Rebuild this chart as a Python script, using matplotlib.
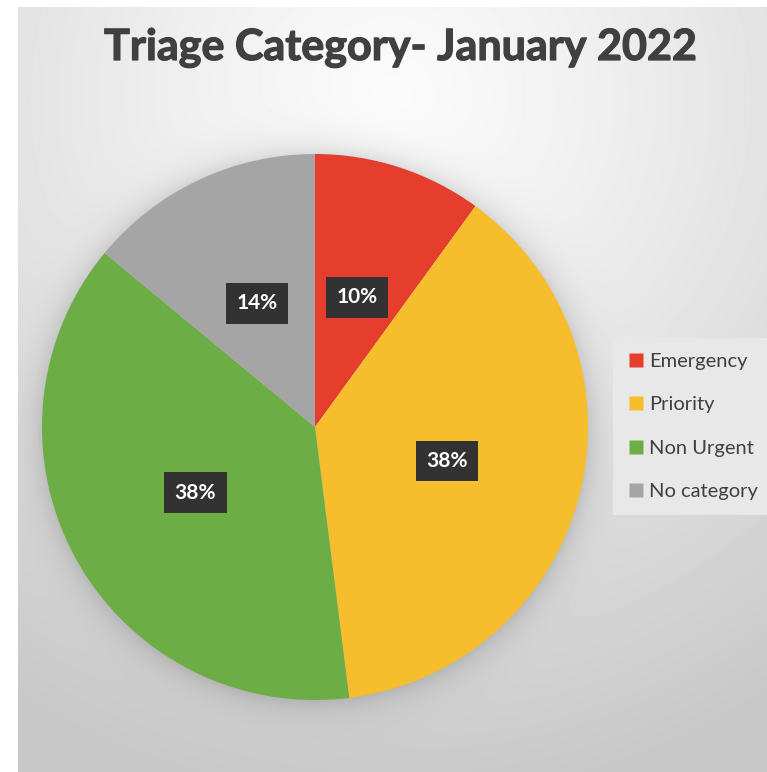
import numpy as np
import matplotlib.pyplot as plt
import matplotlib.patheffects as pe
from matplotlib.lines import Line2D

# Triage categories for January 2022
categories = ["Emergency", "Priority", "Non Urgent", "No category"]
shares = [10, 38, 38, 14]
colors = ["#E53E2D", "#F6BE2D", "#6DAD45", "#A5A5A5"]
title = "Triage Category- January 2022"

W, H, DPI = 767, 772, 100
plt.rcParams["font.family"] = ["Lato", "DejaVu Sans"]

fig = plt.figure(figsize=(W / DPI, H / DPI), dpi=DPI)
fig.patch.set_facecolor("white")

# pie geometry in pixels (from top-left)
cx, cy, R = 315, 427, 273
x0, y0 = 18, 7  # white margin at the left / top

# soft radial backdrop plus a halo under the pie
yy, xx = np.mgrid[0:H, 0:W].astype(float)
d = np.hypot(xx - 390, yy - 100)
bg = 251 - 51 * np.clip(d / 700, 0, 1) ** 1.2
rp = np.hypot(xx - cx, yy - cy)
halo = np.where(rp > R, np.exp(-(rp - R) / 14.0), 1.0)
bg = bg - 28 * halo
bg = np.clip(bg, 0, 255) / 255.0
bg[:, :x0] = 1.0
bg[:y0, :] = 1.0

bax = fig.add_axes([0, 0, 1, 1])
bax.imshow(bg, cmap="gray", vmin=0, vmax=1, extent=(0, W, H, 0),
           interpolation="bilinear", aspect="auto")
bax.set_xlim(0, W)
bax.set_ylim(H, 0)
bax.axis("off")

ax = fig.add_axes([(cx - R) / W, (H - cy - R) / H, 2 * R / W, 2 * R / H])
wedges, texts, autotexts = ax.pie(
    shares, colors=colors, startangle=90, counterclock=False,
    autopct="%1.0f%%", pctdistance=0.5, radius=1.0,
    wedgeprops=dict(linewidth=0),
    textprops=dict(color="white", fontsize=15, fontweight="bold"),
)
for t in autotexts:
    t.set_bbox(dict(boxstyle="square,pad=0.5", fc="#323232", ec="none"))
ax.set_xlim(-1, 1)
ax.set_ylim(-1, 1)
ax.set_aspect("equal")
ax.axis("off")

fig.text(400 / W, 1 - 60 / H, title, ha="center", va="baseline",
         fontsize=31, fontweight="bold", color="#404040",
         path_effects=[pe.withStroke(linewidth=0.9, foreground="#404040")])

handles = [Line2D([], [], marker="s", linestyle="none", markersize=9.5,
                  markerfacecolor=c, markeredgecolor="none") for c in colors]
leg = fig.legend(handles, categories, loc="upper left",
                 bbox_to_anchor=(613 / W, 1 - 338 / H),
                 fontsize=14.5, labelcolor="#404040", frameon=True,
                 fancybox=False, labelspacing=1.3, handlelength=0.8,
                 handletextpad=0.25, borderpad=0.75, borderaxespad=0)
leg.get_frame().set_facecolor("#e8e8e8")
leg.get_frame().set_edgecolor("none")
leg.get_frame().set_alpha(1)

fig.savefig("out.png", dpi=DPI)
